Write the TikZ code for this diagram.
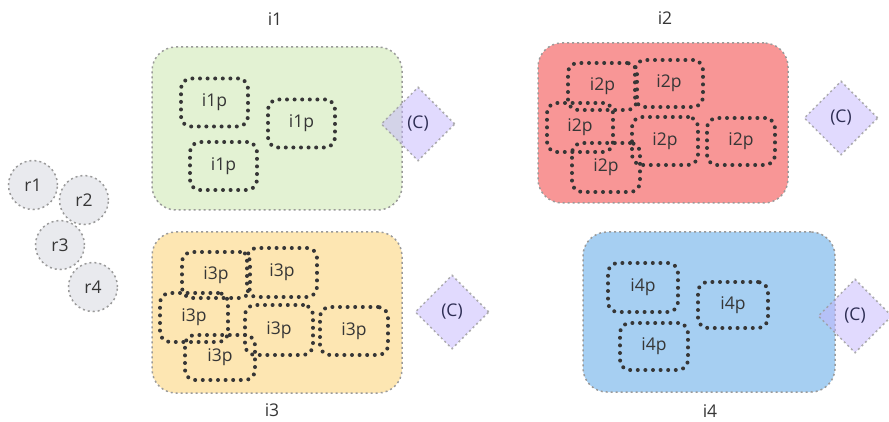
\documentclass[tikz,border=0pt]{standalone}
\usepackage{fontspec}
\setmainfont{Open Sans}
\usetikzlibrary{shapes.geometric}
\definecolor{inkgray}{HTML}{363636}
\definecolor{rimgray}{HTML}{9A9A9A}
\definecolor{greenfill}{HTML}{E3F2D3}
\definecolor{redfill}{HTML}{F89696}
\definecolor{yellowfill}{HTML}{FDE6B2}
\definecolor{bluefill}{HTML}{A6CFF2}
\definecolor{roundfill}{HTML}{E9EAEE}
\definecolor{lavender}{HTML}{C4B5FD}
\tikzset{
  lbl/.style={text=inkgray, font=\fontsize{17.5}{20}\selectfont, inner sep=0pt},
  groupbox/.style={draw=rimgray, line width=1.5pt, dash pattern=on 2pt off 3pt,
    rounded corners=24pt, minimum width=250pt, minimum height=161pt, inner sep=0pt},
  partbox/.style={draw=inkgray, line width=4pt, line cap=round,
    dash pattern=on 0pt off 7.6pt, rounded corners=10pt,
    minimum width=67pt, minimum height=48pt, inner sep=0pt,
    text=inkgray, font=\fontsize{17.5}{20}\selectfont},
  choice/.style={diamond, aspect=1, minimum size=74pt, inner sep=0pt,
    fill=lavender, fill opacity=0.5, text opacity=1,
    draw=rimgray, draw opacity=0.8, line width=1.5pt, dash pattern=on 2pt off 3pt,
    text=inkgray!85!blue, font=\fontsize{17.5}{20}\selectfont},
  resource/.style={circle, minimum size=49pt, inner sep=0pt, fill=roundfill,
    draw=rimgray, line width=1.5pt, dash pattern=on 2pt off 3pt,
    text=inkgray, font=\fontsize{17.5}{20}\selectfont}
}
\begin{document}
\begin{tikzpicture}[x=1pt,y=-1pt]
\useasboundingbox (0,0) rectangle (889,422);

% group containers
\node[groupbox, fill=greenfill, minimum height=163pt] (g1) at (277,128.5) {};
\node[groupbox, fill=redfill, minimum height=160pt] (g2) at (663,123) {};
\node[groupbox, fill=yellowfill] (g3) at (277,312.5) {};
\node[groupbox, fill=bluefill, minimum width=252pt, minimum height=160pt] (g4) at (709,312) {};

% group titles
\node[lbl] (t1) at (275,19) {i1};
\node[lbl] (t2) at (665,18) {i2};
\node[lbl] (t3) at (272,410) {i3};
\node[lbl] (t4) at (710,411) {i4};

% parts of i1
\node[partbox] (p11) at (214.5,102.5) {i1p};
\node[partbox] (p12) at (301.5,123.5) {i1p};
\node[partbox] (p13) at (223.5,166) {i1p};

% parts of i2
\node[partbox, minimum width=69pt, minimum height=47pt] (p21) at (602.5,86.5) {i2p};
\node[partbox, minimum width=68pt, minimum height=47pt] (p22) at (669,83.5) {i2p};
\node[partbox, minimum width=66pt, minimum height=49pt] (p23) at (580,127.5) {i2p};
\node[partbox, minimum width=66pt, minimum height=48pt] (p24) at (665,141) {i2p};
\node[partbox, minimum width=68pt, minimum height=47pt] (p25) at (741,141.5) {i2p};
\node[partbox, minimum width=68pt, minimum height=49pt] (p26) at (606,167.5) {i2p};

% parts of i3
\node[partbox, minimum width=68pt, minimum height=46pt] (p31) at (216,275) {i3p};
\node[partbox, minimum width=70pt, minimum height=49pt] (p32) at (282,272.5) {i3p};
\node[partbox, minimum width=68pt, minimum height=49pt] (p33) at (194,317.5) {i3p};
\node[partbox, minimum width=68pt, minimum height=50pt] (p34) at (279,330) {i3p};
\node[partbox, minimum width=68pt, minimum height=48pt] (p35) at (354,331) {i3p};
\node[partbox, minimum width=70pt, minimum height=45pt] (p36) at (220,357.5) {i3p};

% parts of i4
\node[partbox, minimum width=70pt, minimum height=49pt] (p41) at (643,287.5) {i4p};
\node[partbox, minimum width=70pt, minimum height=46pt] (p42) at (733,305) {i4p};
\node[partbox, minimum width=68pt, minimum height=47pt] (p43) at (654,346.5) {i4p};

% choice markers
\node[choice] (c1) at (418,124) {(C)};
\node[choice] (c2) at (841,118) {(C)};
\node[choice] (c3) at (452,312) {(C)};
\node[choice] (c4) at (855,316) {(C)};

% resources
\node[resource] (r1) at (33,185) {r1};
\node[resource] (r2) at (84,200) {r2};
\node[resource] (r3) at (60,245) {r3};
\node[resource] (r4) at (93,287) {r4};
\end{tikzpicture}
\end{document}
